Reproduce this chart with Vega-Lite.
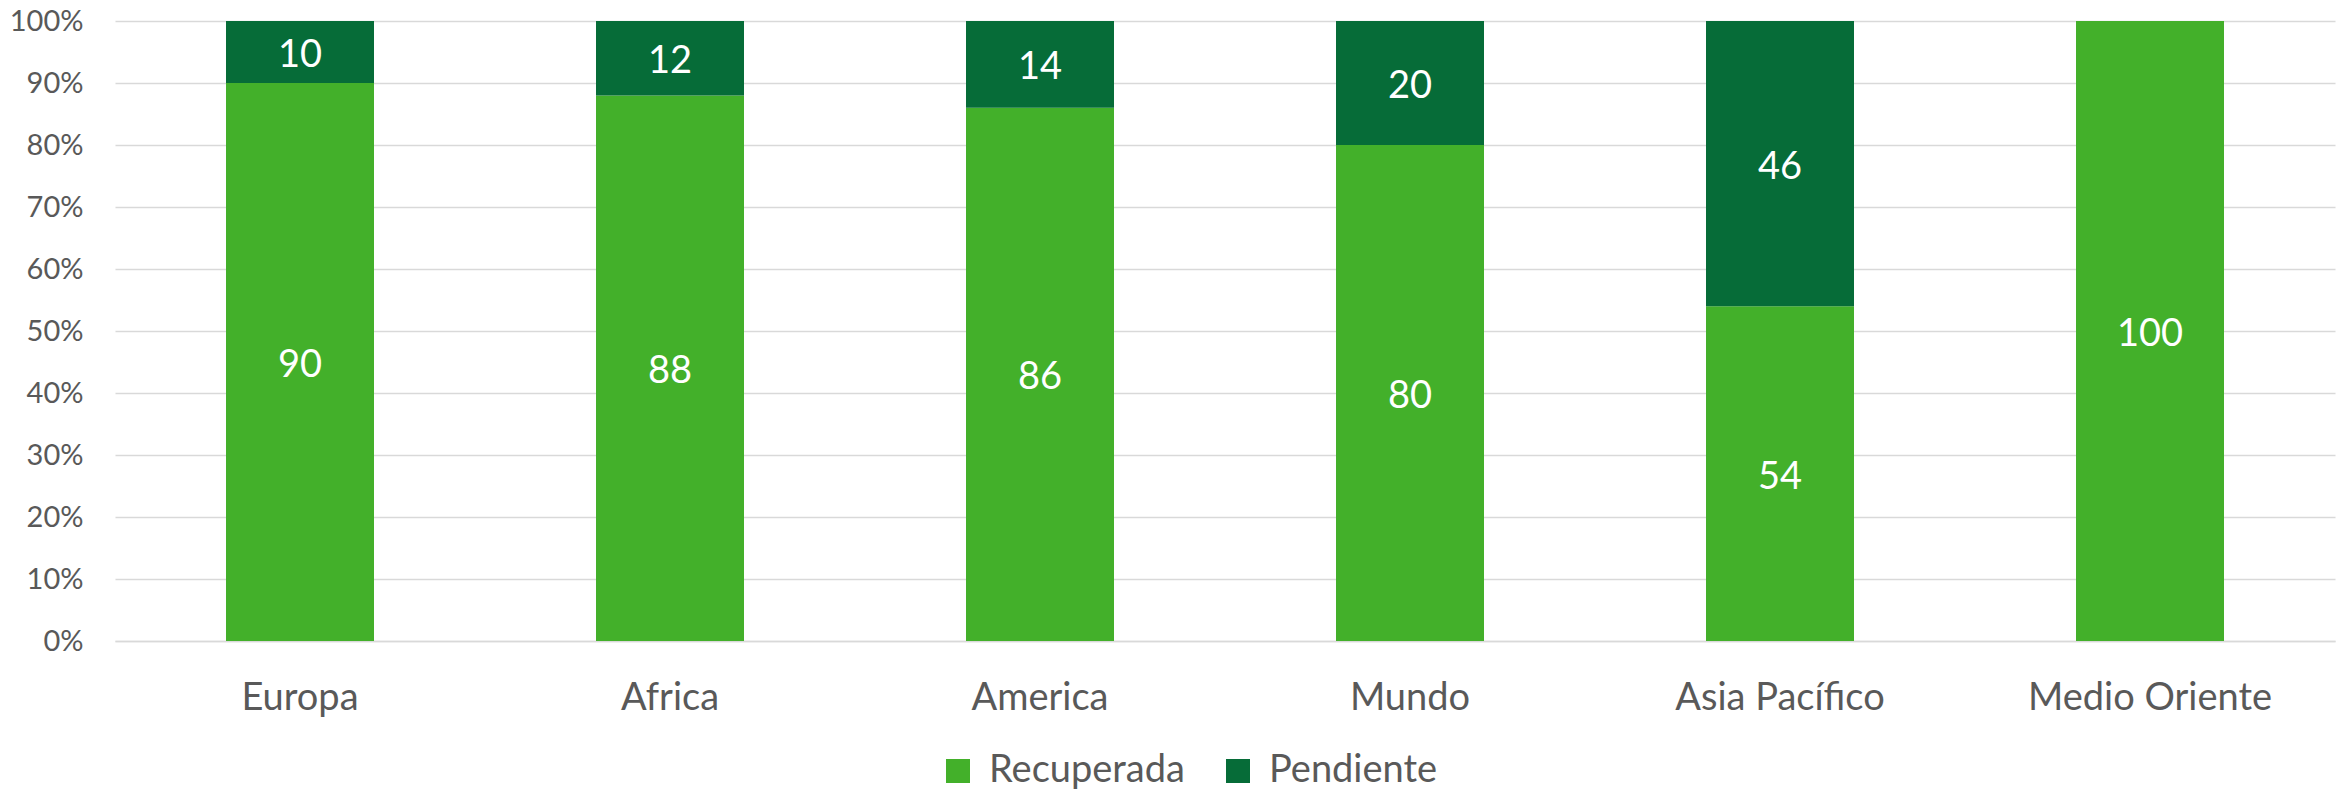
{
  "$schema": "https://vega.github.io/schema/vega-lite/v6.json",
  "autosize": {"type": "none"},
  "width": 2220,
  "height": 620,
  "padding": {"left": 115, "top": 21, "right": 14, "bottom": 150},
  "background": "white",
  "data": {
    "values": [
      {"region": "Europa", "serie": "Recuperada", "value": 90},
      {"region": "Europa", "serie": "Pendiente", "value": 10},
      {"region": "Africa", "serie": "Recuperada", "value": 88},
      {"region": "Africa", "serie": "Pendiente", "value": 12},
      {"region": "America", "serie": "Recuperada", "value": 86},
      {"region": "America", "serie": "Pendiente", "value": 14},
      {"region": "Mundo", "serie": "Recuperada", "value": 80},
      {"region": "Mundo", "serie": "Pendiente", "value": 20},
      {"region": "Asia Pacífico", "serie": "Recuperada", "value": 54},
      {"region": "Asia Pacífico", "serie": "Pendiente", "value": 46},
      {"region": "Medio Oriente", "serie": "Recuperada", "value": 100}
    ]
  },
  "encoding": {
    "x": {
      "field": "region",
      "type": "nominal",
      "sort": null,
      "title": null,
      "scale": {"paddingInner": 0.6, "paddingOuter": 0.3},
      "axis": {
        "labelAngle": 0,
        "labelFont": "Lato",
        "labelFontSize": 38,
        "labelColor": "#595959",
        "labelPadding": 38,
        "labelLimit": 0,
        "ticks": false,
        "domainColor": "#D9D9D9",
        "domainWidth": 1.5
      }
    },
    "y": {
      "field": "value",
      "type": "quantitative",
      "stack": "zero",
      "title": null,
      "scale": {"domain": [0, 100], "nice": false},
      "axis": {
        "values": [0, 10, 20, 30, 40, 50, 60, 70, 80, 90, 100],
        "labelExpr": "datum.value + '%'",
        "labelFont": "Lato",
        "labelFontSize": 29,
        "labelColor": "#595959",
        "labelPadding": 32,
        "ticks": false,
        "domain": false,
        "gridColor": "#D9D9D9",
        "gridWidth": 1.5
      }
    },
    "order": {"field": "serie", "sort": "descending"}
  },
  "layer": [
    {
      "mark": {"type": "bar"},
      "encoding": {
        "color": {
          "field": "serie",
          "type": "nominal",
          "scale": {"domain": ["Recuperada", "Pendiente"], "range": ["#43B02A", "#066C38"]},
          "legend": {
            "title": null,
            "orient": "none",
            "direction": "horizontal",
            "legendX": 824,
            "legendY": 731,
            "symbolType": "square",
            "symbolSize": 576,
            "symbolStrokeWidth": 0,
            "labelFont": "Lato",
            "labelFontSize": 38,
            "labelColor": "#595959",
            "labelOffset": 12,
            "labelLimit": 0,
            "columnPadding": 34
          }
        }
      }
    },
    {
      "mark": {"type": "text", "color": "white", "font": "Lato", "fontSize": 38, "baseline": "middle", "dy": 4},
      "encoding": {
        "y": {"field": "value", "type": "quantitative", "stack": "zero", "bandPosition": 0.5},
        "text": {"field": "value", "type": "quantitative"}
      }
    }
  ],
  "config": {
    "view": {"stroke": null}
  }
}
